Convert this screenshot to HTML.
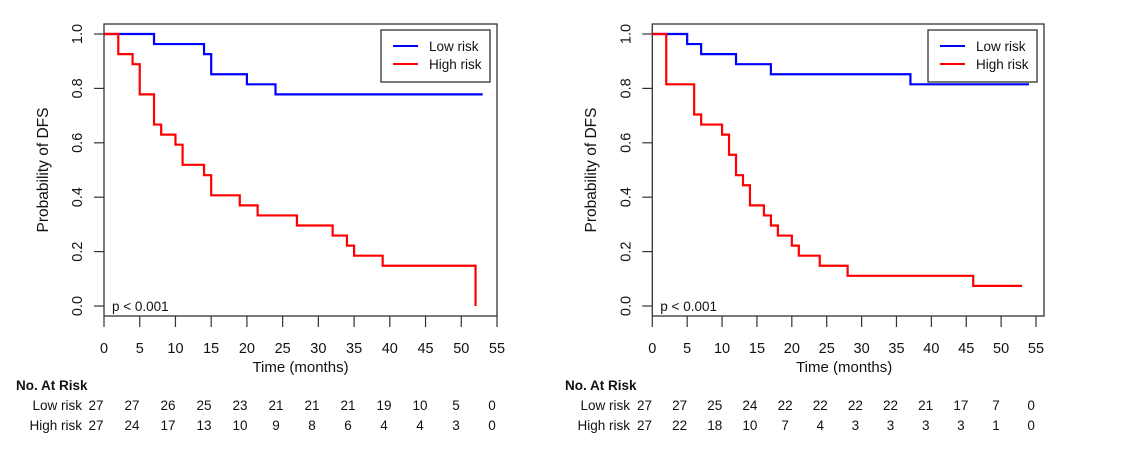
<!DOCTYPE html>
<html><head><meta charset="utf-8"><style>
body{margin:0;background:#fff;}
svg{display:block;font-family:"Liberation Sans",Arial,sans-serif;}
</style></head><body>
<svg id="c" width="1122" height="453"></svg>
<script>
const xTicks=[0,5,10,15,20,25,30,35,40,45,50,55];
const yTicks=[0,0.2,0.4,0.6,0.8,1.0];
const leftLowT=[0,7,14,15,20,24,53];
const leftLowS=[1,0.963,0.926,0.852,0.815,0.778,0.778];
const leftHighT=[0,2,4,5,7,8,10,11,14,15,19,21.5,27,32,34,35,39,52,52];
const leftHighS=[1,0.926,0.889,0.778,0.667,0.63,0.593,0.519,0.481,0.407,0.37,0.333,0.296,0.259,0.222,0.185,0.148,0.148,0];
const rightLowT=[0,5,7,12,17,37,54];
const rightLowS=[1,0.963,0.926,0.889,0.852,0.815,0.815];
const rightHighT=[0,2,6,7,10,11,12,13,14,16,17,18,20,21,24,28,46,53];
const rightHighS=[1,0.815,0.704,0.667,0.63,0.556,0.481,0.444,0.37,0.333,0.296,0.259,0.222,0.185,0.148,0.111,0.074,0.074];
const leftRiskLow=[27,27,26,25,23,21,21,21,19,10,5,0];
const leftRiskHigh=[27,24,17,13,10,9,8,6,4,4,3,0];
const rightRiskLow=[27,27,25,24,22,22,22,22,21,17,7,0];
const rightRiskHigh=[27,22,18,10,7,4,3,3,3,3,1,0];

const svg=document.getElementById('c');
const NS='http://www.w3.org/2000/svg';
function mk(tag,attrs,parent){const e=document.createElementNS(NS,tag);for(const k in attrs)e.setAttribute(k,attrs[k]);(parent||svg).appendChild(e);return e;}
function txt(s,x,y,attrs,parent){const e=mk('text',Object.assign({x:x,y:y,'font-size':13,fill:'#111'},attrs||{}),parent);e.textContent=s;return e;}

function panel(p){
  const g=mk('g',{});
  
  
  const X=t=>p.x0+t*(p.x55-p.x0)/55;
  const Y=v=>306-v*272;
  const box=mk('rect',{x:p.bl,y:24,width:p.br-p.bl,height:292,fill:'none',stroke:'#333','stroke-width':1.3},g);
  
  xTicks.forEach(t=>{
    const l=mk('line',{x1:X(t),x2:X(t),y1:316,y2:327,stroke:'#333','stroke-width':1.2},g);
    
    const tl=txt(String(t),X(t),353,{'text-anchor':'middle','font-size':14.5},g);
    
  });
  yTicks.forEach(v=>{
    const l=mk('line',{x1:p.bl-10,x2:p.bl,y1:Y(v),y2:Y(v),stroke:'#333','stroke-width':1.2},g);
    
    const tx=p.bl-27;
    const tl=txt(v.toFixed(1),tx,Y(v),{'text-anchor':'middle','font-size':14.5,transform:`rotate(-90 ${tx} ${Y(v)})`,dy:5},g);
    
  });
  const yl=txt('Probability of DFS',p.ylx,170,{'text-anchor':'middle','font-size':15.5,transform:`rotate(-90 ${p.ylx} 170)`,dy:5},g);
  
  const xl=txt('Time (months)',(p.x0+p.x55)/2,372,{'text-anchor':'middle','font-size':15},g);
  
  const pv=txt('p < 0.001',p.bl+8,311,{'font-size':13.5},g);
  
  function step(T,S,col,name){
    let d='M'+X(T[0])+','+Y(S[0]);
    for(let i=1;i<T.length;i++){d+=' H'+X(T[i])+' V'+Y(S[i]);}
    const path=mk('path',{d:d,fill:'none',stroke:col,'stroke-width':2.2},g);
    
  }
  step(p.lowT,p.lowS,'#0000ff','low-risk-curve');
  step(p.highT,p.highS,'#ff0000','high-risk-curve');
  const lg=mk('g',{},g);
  
  mk('rect',{x:p.lgx,y:30,width:109,height:52,fill:'#fff',stroke:'#333','stroke-width':1.3},lg);
  mk('line',{x1:p.lgx+12,x2:p.lgx+37,y1:46,y2:46,stroke:'#0000ff','stroke-width':2},lg);
  mk('line',{x1:p.lgx+12,x2:p.lgx+37,y1:64,y2:64,stroke:'#ff0000','stroke-width':2},lg);
  const e1=txt('Low risk',p.lgx+48,51,{'font-size':13.5},lg);
  
  const e2=txt('High risk',p.lgx+48,69,{'font-size':13.5},lg);
  
  const rh=txt('No. At Risk',p.rx,390,{'font-size':13.5,'font-weight':'bold'},g);
  
  const r1=txt('Low risk',p.rlab,410,{'text-anchor':'end','font-size':13.5},g);
  
  const r2=txt('High risk',p.rlab,430,{'text-anchor':'end','font-size':13.5},g);
  
  p.riskLow.forEach((n,i)=>{
    const a=txt(String(n),p.c0+i*p.cs,410,{'text-anchor':'middle','font-size':13.5},g);
    
  });
  p.riskHigh.forEach((n,i)=>{
    const a=txt(String(n),p.c0+i*p.cs,430,{'text-anchor':'middle','font-size':13.5},g);
    
  });
}
panel({name:'left-panel',x0:104,x55:497,bl:104,br:497,ylx:43,lgx:381,rx:16,rlab:82,c0:96,cs:36,
  lowT:leftLowT,lowS:leftLowS,highT:leftHighT,highS:leftHighS,riskLow:leftRiskLow,riskHigh:leftRiskHigh});
panel({name:'right-panel',x0:652.3,x55:1036,bl:652.3,br:1044,ylx:591,lgx:928,rx:565,rlab:630,c0:644.5,cs:35.15,
  lowT:rightLowT,lowS:rightLowS,highT:rightHighT,highS:rightHighS,riskLow:rightRiskLow,riskHigh:rightRiskHigh});
</script>
</body></html>
